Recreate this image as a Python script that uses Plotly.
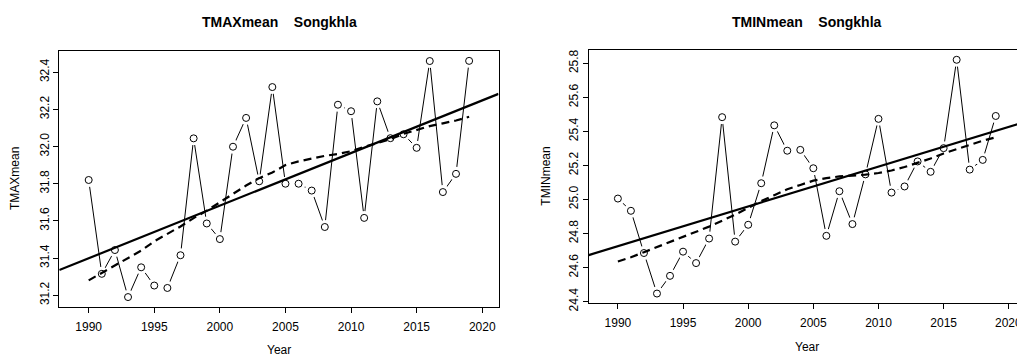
import numpy as np
import plotly.graph_objects as go

# Annual mean temperatures, Songkhla
years = list(range(1990, 2020))
tmax_mean = [31.82, 31.315, 31.443, 31.19, 31.35, 31.252, 31.239, 31.415, 32.044, 31.586,
             31.502, 31.999, 32.154, 31.813, 32.32, 31.80, 31.80, 31.763, 31.567, 32.225,
             32.19, 31.616, 32.243, 32.045, 32.066, 31.993, 32.46, 31.755, 31.853, 32.461]
tmin_mean = [25.005, 24.933, 24.685, 24.447, 24.551, 24.693, 24.626, 24.77, 25.483, 24.752,
             24.851, 25.095, 25.435, 25.286, 25.291, 25.183, 24.786, 25.048, 24.855, 25.147,
             25.473, 25.04, 25.076, 25.223, 25.162, 25.301, 25.82, 25.175, 25.232, 25.49]
# Smoothed (local regression) curves
tmax_smooth = [31.28, 31.32, 31.36, 31.40, 31.44, 31.49, 31.53, 31.57, 31.615, 31.655,
               31.70, 31.745, 31.79, 31.83, 31.86, 31.90, 31.92, 31.935, 31.95, 31.96,
               31.975, 31.998, 32.02, 32.04, 32.068, 32.09, 32.11, 32.125, 32.14, 32.16]
tmin_smooth = [24.635, 24.66, 24.69, 24.72, 24.75, 24.78, 24.81, 24.84, 24.875, 24.91,
               24.95, 24.99, 25.025, 25.06, 25.085, 25.11, 25.125, 25.135, 25.14, 25.145,
               25.155, 25.17, 25.19, 25.215, 25.24, 25.27, 25.295, 25.32, 25.345, 25.365]
year_ticks = [1990, 1995, 2000, 2005, 2010, 2015, 2020]

FONT = "Liberation Sans, Arial, Helvetica, sans-serif"
W, H = 1017, 362


def fx(p):
    return p / W


def fy(p):
    return 1 - p / H


def padded(lo, hi, frac=0.04):
    pad = (hi - lo) * frac
    return [lo - pad, hi + pad]


panels = [
    dict(label="TMAXmean", values=tmax_mean, smooth=tmax_smooth, xa="x", ya="y",
         box=(59.3, 498.5, 51.7, 313.3), xrange=padded(1989, 2020),
         title_x=279, ytitle_x=15, xtitle_y=358, mirror_y=True, edge_label=False),
    dict(label="TMINmean", values=tmin_mean, smooth=tmin_smooth, xa="x2", ya="y2",
         box=(588.7, 1017, 50.7, 309.6), xrange=[padded(1989, 2020)[0], 2020.63],
         title_x=807, ytitle_x=546, xtitle_y=355, mirror_y=False, edge_label=True),
]

fig = go.Figure()
annotations = []
layout_axes = {}

for i, p in enumerate(panels):
    x0, x1, y0, y1 = p["box"]
    vals = p["values"]
    yr = padded(min(vals), max(vals))

    # connecting line with gaps around the points (type "b")
    fig.add_trace(go.Scatter(x=years, y=vals, mode="lines", xaxis=p["xa"], yaxis=p["ya"],
                             line=dict(color="black", width=1), hoverinfo="skip"))
    fig.add_trace(go.Scatter(x=years, y=vals, mode="markers", xaxis=p["xa"], yaxis=p["ya"],
                             marker=dict(symbol="circle", size=14, color="white",
                                         line=dict(width=0)), hoverinfo="skip"))
    fig.add_trace(go.Scatter(x=years, y=vals, mode="markers", xaxis=p["xa"], yaxis=p["ya"],
                             marker=dict(symbol="circle-open", size=7, color="black",
                                         line=dict(width=1, color="black"))))

    # least-squares trend across the whole plotting region
    slope, intercept = np.polyfit(years, vals, 1)
    tx = np.array([padded(1989, 2020)[0], padded(1989, 2020)[1]])
    fig.add_trace(go.Scatter(x=tx, y=intercept + slope * tx, mode="lines",
                             xaxis=p["xa"], yaxis=p["ya"],
                             line=dict(color="black", width=2.2), hoverinfo="skip"))
    # smoothed curve
    fig.add_trace(go.Scatter(x=years, y=p["smooth"], mode="lines",
                             xaxis=p["xa"], yaxis=p["ya"],
                             line=dict(color="black", width=2.2, dash="8px,5px"),
                             hoverinfo="skip"))

    tick_text = [str(t) for t in year_ticks]
    if p["edge_label"]:
        # last label runs off the page edge; drawn as an annotation instead
        tick_text[-1] = ""
        annotations.append(dict(
            text=str(year_ticks[-1]), x=year_ticks[-1], xref=p["xa"],
            y=fy(y1 + 21), yref="paper", xanchor="center", yanchor="middle",
            showarrow=False, font=dict(family=FONT, size=12, color="black")))

    suffix = "" if i == 0 else "2"
    layout_axes["xaxis" + suffix] = dict(
        domain=[fx(x0), fx(x1)], range=p["xrange"], anchor=p["ya"],
        tickvals=year_ticks, ticktext=tick_text,
        ticks="outside", ticklen=5, tickwidth=1, tickcolor="black",
        showline=True, linecolor="black", linewidth=1, mirror=True,
        showgrid=False, zeroline=False, ticklabelstandoff=4,
        tickfont=dict(family=FONT, size=12, color="black"))
    layout_axes["yaxis" + suffix] = dict(
        domain=[fy(y1), fy(y0)], range=yr, anchor=p["xa"],
        dtick=0.2, tick0=0, tickformat=".1f", tickangle=-90,
        ticks="outside", ticklen=5, tickwidth=1, tickcolor="black",
        showline=True, linecolor="black", linewidth=1, mirror=p["mirror_y"],
        showgrid=False, zeroline=False,
        tickfont=dict(family=FONT, size=12, color="black"))

    annotations.append(dict(
        text="<b>" + p["label"] + "\u00a0\u00a0\u00a0\u00a0Songkhla</b>",
        x=fx(p["title_x"]), y=fy(22), xref="paper", yref="paper",
        xanchor="center", yanchor="middle", showarrow=False,
        font=dict(family=FONT, size=14, color="black")))
    annotations.append(dict(
        text=p["label"], textangle=-90,
        x=fx(p["ytitle_x"]), y=fy((y0 + y1) / 2), xref="paper", yref="paper",
        xanchor="center", yanchor="middle", showarrow=False,
        font=dict(family=FONT, size=12, color="black")))
    annotations.append(dict(
        text="Year",
        x=fx(p["title_x"]), y=fy(p["xtitle_y"]), xref="paper", yref="paper",
        xanchor="center", yanchor="middle", showarrow=False,
        font=dict(family=FONT, size=12, color="black")))

fig.update_layout(
    width=W, height=H,
    margin=dict(l=0, r=0, t=0, b=0),
    paper_bgcolor="white", plot_bgcolor="white",
    showlegend=False,
    annotations=annotations,
    **layout_axes,
)

fig.write_html("out.html")
